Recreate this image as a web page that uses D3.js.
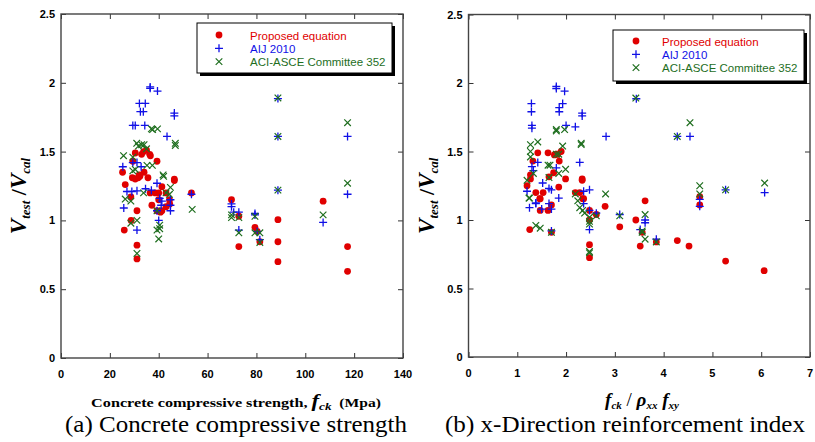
<!DOCTYPE html>
<html>
<head>
<meta charset="utf-8">
<script src="https://cdn.jsdelivr.net/npm/d3@7"></script>
<style>
  body { margin: 0; background: #fff; }
  svg { display: block; }
  .tick-label { font-family: "Liberation Sans", Arial, sans-serif; font-weight: bold; font-size: 11px; }
  .legend-text { font-family: "Liberation Sans", Arial, sans-serif; font-size: 11.5px; }
  .serif { font-family: "Liberation Serif", "Times New Roman", serif; }
</style>
</head>
<body>
<svg id="chart" width="815" height="442"></svg>
<script>
// ---- data: [x, Vtest/Vcal] ----

// (a) concrete compressive strength fck (MPa)
const fckProposed = [
  [25.2, 1.35], [26.3, 1.26], [28.6, 1.17], [29.4, 1.43], [30.4, 1.49], [31.1, 1.07],
  [29.2, 1.31], [30.4, 1.30], [31.6, 1.31], [32.3, 1.32], [33.0, 1.48], [33.8, 1.50],
  [35.0, 1.51], [36.3, 1.48], [36.6, 1.47], [35.6, 1.31], [36.5, 1.20], [37.2, 1.11],
  [39.3, 1.43], [38.6, 1.20], [40.0, 1.20], [39.3, 1.07], [40.7, 1.06], [41.3, 1.07],
  [40.0, 1.15], [41.3, 1.245], [43.0, 1.20], [44.4, 1.15], [46.4, 1.29], [46.4, 1.30],
  [53.4, 1.20], [69.8, 1.15], [72.8, 1.03], [107.3, 1.14], [25.9, 0.93], [28.7, 1.00],
  [31.1, 0.82], [31.1, 0.72], [43.0, 1.10], [44.5, 1.12], [72.8, 0.81], [79.4, 0.95],
  [80.3, 0.92], [81.4, 0.845], [88.8, 1.005], [88.8, 0.845], [88.8, 0.70], [117.3, 0.81],
  [117.3, 0.63], [32.0, 1.33], [34.0, 1.35]
];
const fckAIJ = [
  [36.5, 1.97], [36.5, 1.96], [39.5, 1.94], [32.1, 1.85], [34.5, 1.85], [32.5, 1.79],
  [33.7, 1.79], [29.4, 1.69], [30.4, 1.69], [34.3, 1.69], [43.4, 1.61], [46.4, 1.78],
  [46.4, 1.76], [25.3, 1.39], [29.4, 1.42], [31.1, 1.42], [32.8, 1.39], [27.0, 1.21],
  [29.0, 1.21], [31.1, 1.215], [34.6, 1.23], [37.0, 1.22], [39.3, 1.27], [40.4, 1.16],
  [41.3, 1.14], [44.8, 1.15], [44.8, 1.11], [25.7, 1.09], [53.4, 1.19], [69.8, 1.10],
  [70.7, 1.06], [72.8, 1.06], [79.4, 1.05], [88.8, 1.61], [88.8, 1.22], [88.8, 1.885],
  [117.3, 1.61], [117.3, 1.19], [107.3, 0.985], [31.1, 0.93], [39.3, 1.07], [40.0, 1.00],
  [41.0, 1.11], [44.8, 1.07], [69.8, 1.12], [72.8, 0.93], [79.4, 1.04], [80.3, 0.92],
  [81.4, 0.86]
];
const fckACI = [
  [25.6, 1.47], [26.3, 1.155], [28.6, 1.14], [29.4, 1.46], [29.4, 1.36], [30.4, 1.37],
  [31.0, 1.56], [31.7, 1.54], [33.0, 1.55], [34.0, 1.55], [35.0, 1.52], [33.8, 1.20],
  [37.0, 1.665], [37.5, 1.66], [39.5, 1.665], [35.2, 1.40], [37.4, 1.40], [41.8, 1.33],
  [42.0, 1.32], [44.4, 1.19], [44.8, 1.24], [46.8, 1.56], [46.8, 1.545], [53.7, 1.08],
  [69.8, 1.04], [79.4, 1.03], [88.8, 1.89], [88.8, 1.61], [88.8, 1.22], [117.3, 1.71],
  [117.3, 1.27], [107.3, 1.04], [28.6, 0.98], [31.1, 1.00], [31.1, 0.76], [39.3, 1.07],
  [39.3, 0.93], [40.4, 0.965], [40.4, 0.94], [40.0, 0.865], [69.8, 1.02], [72.8, 1.02],
  [72.8, 0.91], [79.4, 0.91], [81.4, 0.91], [81.4, 0.84], [43.0, 1.20]
];

// (b) x-direction reinforcement index fck / (rho_xx * f_xy)
const idxProposed = [
  [1.20, 1.25], [1.27, 1.33], [1.27, 1.30], [1.32, 1.43], [1.38, 1.20], [1.42, 1.49],
  [1.47, 1.155], [1.47, 1.07], [1.53, 1.20], [1.63, 1.49], [1.65, 1.315], [1.63, 1.07],
  [1.70, 1.11], [1.745, 1.345], [1.76, 1.475], [1.80, 1.48], [1.83, 1.48], [1.86, 1.43],
  [1.99, 1.30], [1.85, 1.24], [2.19, 1.20], [2.28, 1.20], [2.33, 1.30], [2.33, 1.29],
  [2.34, 1.155], [2.48, 1.07], [2.80, 1.10], [3.62, 1.14], [3.43, 1.00], [4.74, 1.17],
  [4.74, 1.11], [1.255, 0.93], [1.70, 0.91], [2.36, 1.155], [2.48, 1.00], [2.48, 0.82],
  [2.48, 0.725], [2.62, 1.04], [3.10, 0.95], [3.52, 0.81], [3.56, 0.91], [3.85, 0.84],
  [4.28, 0.85], [4.52, 0.81], [5.27, 0.70], [6.06, 0.63], [1.46, 1.155], [1.90, 1.50]
];
const idxAIJ = [
  [1.29, 1.85], [1.29, 1.79], [1.30, 1.69], [1.30, 1.67], [1.80, 1.975], [1.80, 1.96],
  [1.97, 1.94], [1.93, 1.85], [1.86, 1.82], [1.86, 1.79], [2.00, 1.69], [2.19, 1.68],
  [2.33, 1.78], [2.33, 1.76], [2.82, 1.61], [3.44, 1.885], [4.28, 1.61], [4.54, 1.61],
  [6.07, 1.20], [5.27, 1.22], [1.30, 1.39], [1.33, 1.36], [1.42, 1.42], [1.20, 1.21],
  [1.25, 1.09], [1.38, 1.125], [1.52, 1.27], [1.65, 1.23], [1.70, 1.22], [1.80, 1.38],
  [1.85, 1.16], [2.28, 1.42], [2.36, 1.21], [2.48, 1.22], [2.62, 1.05], [3.10, 1.04],
  [4.74, 1.15], [4.74, 1.10], [1.50, 1.08], [1.70, 1.08], [1.38, 1.12], [1.65, 1.12],
  [2.36, 1.12], [2.48, 1.07], [2.48, 0.93], [3.52, 0.93], [3.62, 1.00], [3.62, 0.98],
  [3.85, 0.86], [1.70, 0.92]
];
const idxACI = [
  [1.20, 1.29], [1.24, 1.16], [1.27, 1.55], [1.27, 1.50], [1.27, 1.46], [1.33, 1.34],
  [1.42, 1.57], [1.63, 1.40], [1.67, 1.40], [1.65, 1.31], [1.80, 1.66], [1.80, 1.65],
  [1.97, 1.66], [1.80, 1.48], [1.85, 1.48], [1.93, 1.54], [1.85, 1.34], [1.99, 1.37],
  [2.19, 1.19], [2.24, 1.14], [2.31, 1.56], [2.31, 1.55], [2.28, 1.09], [2.34, 1.07],
  [2.48, 1.02], [2.81, 1.19], [3.43, 1.89], [4.28, 1.61], [4.54, 1.71], [4.74, 1.25],
  [4.74, 1.19], [5.27, 1.22], [6.07, 1.27], [3.10, 1.03], [3.62, 1.04], [1.38, 0.96],
  [1.47, 0.94], [1.70, 0.91], [2.38, 1.05], [2.48, 0.99], [2.48, 0.97], [2.48, 0.77],
  [2.48, 0.76], [2.62, 1.03], [3.56, 0.92], [3.56, 0.91], [3.62, 0.86], [3.85, 0.84],
  [1.25, 1.16]
];

const yTicks = [0, 0.5, 1, 1.5, 2, 2.5];
const yTickLabels = ['0', '0.5', '1', '1.5', '2', '2.5'];
const fckTicks = [0, 20, 40, 60, 80, 100, 120, 140];
const idxTicks = [0, 1, 2, 3, 4, 5, 6, 7];

const seriesNames = ['Proposed equation', 'AIJ 2010', 'ACI-ASCE Committee 352'];
const seriesColors = ['#e00000', '#1010e6', '#1e6e1e'];

const svg = d3.select('#chart');

function drawMarker(g, type, x, y, color) {
  if (type === 0) {
    g.append('circle').attr('cx', x).attr('cy', y).attr('r', 3.4).attr('fill', color);
  } else if (type === 1) {
    const s = 4;
    g.append('path')
      .attr('d', `M${x - s},${y}H${x + s}M${x},${y - s}V${y + s}`)
      .attr('stroke', color).attr('stroke-width', 1.3).attr('fill', 'none');
  } else {
    const s = 3.3;
    g.append('path')
      .attr('d', `M${x - s},${y - s}L${x + s},${y + s}M${x - s},${y + s}L${x + s},${y - s}`)
      .attr('stroke', color).attr('stroke-width', 1.2).attr('fill', 'none');
  }
}

function drawPanel(opt) {
  const x = d3.scaleLinear().domain(opt.xDomain).range([opt.left, opt.right]);
  const y = d3.scaleLinear().domain([0, 2.5]).range([opt.bottom, opt.top]);
  const g = svg.append('g');

  // points: red first, crosses drawn over them
  [0, 1, 2].forEach(k => {
    const pg = g.append('g');
    opt.series[k].forEach(d => drawMarker(pg, k, x(d[0]), y(d[1]), seriesColors[k]));
  });

  // axes with inward ticks on all four sides
  const tl = -5;
  g.append('g').attr('transform', `translate(0,${opt.bottom})`)
    .call(d3.axisBottom(x).tickValues(opt.xTicks).tickSize(tl).tickFormat(''));
  g.append('g').attr('transform', `translate(0,${opt.top})`)
    .call(d3.axisTop(x).tickValues(opt.xTicks).tickSize(tl).tickFormat(''));
  g.append('g').attr('transform', `translate(${opt.left},0)`)
    .call(d3.axisLeft(y).tickValues(yTicks).tickSize(tl).tickFormat(''));
  g.append('g').attr('transform', `translate(${opt.right},0)`)
    .call(d3.axisRight(y).tickValues(yTicks).tickSize(tl).tickFormat(''));
  g.selectAll('.domain').remove();
  g.selectAll('.tick line').attr('stroke', '#333').attr('stroke-width', 1);

  g.append('rect')
    .attr('x', opt.left).attr('y', opt.top)
    .attr('width', opt.right - opt.left).attr('height', opt.bottom - opt.top)
    .attr('fill', 'none').attr('stroke', '#444').attr('stroke-width', 1.4);

  // tick labels
  g.selectAll('.xl').data(opt.xTicks).enter().append('text')
    .attr('class', 'tick-label').attr('text-anchor', 'middle')
    .attr('x', d => x(d)).attr('y', opt.bottom + 20).text(d => d);
  g.selectAll('.yl').data(yTicks).enter().append('text')
    .attr('class', 'tick-label').attr('text-anchor', 'end')
    .attr('x', opt.left - 6).attr('y', d => y(d) + 4).text((d, i) => yTickLabels[i]);

  // y title
  const yt = g.append('text').attr('class', 'serif')
    .attr('transform', `translate(${opt.left - 35},${(opt.top + opt.bottom) / 2 + 10}) rotate(-90)`)
    .attr('text-anchor', 'middle').attr('font-weight', 'bold').attr('font-style', 'italic');
  yt.append('tspan').attr('font-size', 23).text('V');
  yt.append('tspan').attr('font-size', 13).attr('dy', 4).text('test');
  yt.append('tspan').attr('font-size', 22).attr('dy', -4).attr('font-style', 'normal').text(' /');
  yt.append('tspan').attr('font-size', 23).text('V');
  yt.append('tspan').attr('font-size', 13).attr('dy', 4).text('cal');

  // legend
  const L = opt.legend;
  const lg = g.append('g').attr('transform', `translate(${L.x},${L.y})`);
  lg.append('rect').attr('x', 3).attr('y', 3).attr('width', L.w).attr('height', L.h)
    .attr('fill', '#000');
  lg.append('rect').attr('x', 0).attr('y', 0).attr('width', L.w).attr('height', L.h)
    .attr('fill', '#fff').attr('stroke', '#000').attr('stroke-width', 1);
  seriesNames.forEach((name, k) => {
    const ry = L.row0 + k * 13.3;
    drawMarker(lg, k, L.mx, ry, seriesColors[k]);
    lg.append('text').attr('class', 'legend-text')
      .attr('x', L.tx).attr('y', ry + 4.5).attr('fill', seriesColors[k]).text(name);
  });

  // captions
  opt.xTitle(g);
  g.append('text').attr('class', 'serif').attr('font-size', 23)
    .attr('x', opt.caption.x).attr('y', 432)
    .attr('textLength', opt.caption.w).attr('lengthAdjust', 'spacingAndGlyphs')
    .text(opt.caption.text);
}

drawPanel({
  left: 61, right: 403, top: 14, bottom: 358,
  xDomain: [0, 140], xTicks: fckTicks,
  series: [fckProposed, fckAIJ, fckACI],
  legend: { x: 197, y: 23, w: 195, h: 50, row0: 12, mx: 22, tx: 53 },
  caption: { x: 65, w: 342, text: '(a) Concrete compressive strength' },
  xTitle: g => {
    const t = g.append('text').attr('class', 'serif').attr('font-weight', 'bold')
      .attr('transform', 'translate(236,407) scale(1.2,1)').attr('text-anchor', 'middle');
    t.append('tspan').attr('font-size', 13.5).text('Concrete compressive strength,\u00a0');
    t.append('tspan').attr('font-size', 19).attr('font-style', 'italic').text('f');
    t.append('tspan').attr('font-size', 11).attr('font-style', 'italic').attr('dy', 3).text('ck');
    t.append('tspan').attr('font-size', 13).attr('dy', -3).text('\u00a0\u00a0(Mpa)');
  }
});

drawPanel({
  left: 468.5, right: 810, top: 14.5, bottom: 357,
  xDomain: [0, 7], xTicks: idxTicks,
  series: [idxProposed, idxAIJ, idxACI],
  legend: { x: 613, y: 30, w: 191, h: 51, row0: 11, mx: 23, tx: 49 },
  caption: { x: 445, w: 360, text: '(b) x-Direction reinforcement index' },
  xTitle: g => {
    const t = g.append('text').attr('class', 'serif').attr('font-weight', 'bold')
      .attr('font-style', 'italic').attr('x', 642).attr('y', 406).attr('text-anchor', 'middle');
    t.append('tspan').attr('font-size', 19).text('f');
    t.append('tspan').attr('font-size', 11).attr('dy', 3).text('ck');
    t.append('tspan').attr('font-size', 19).attr('dy', -3).attr('font-style', 'normal').attr('font-weight', 'normal').text(' / ');
    t.append('tspan').attr('font-size', 19).text('ρ');
    t.append('tspan').attr('font-size', 11).attr('dy', 3).text('xx');
    t.append('tspan').attr('font-size', 19).attr('dy', -3).text(' f');
    t.append('tspan').attr('font-size', 11).attr('dy', 3).text('xy');
  }
});
</script>
</body>
</html>
